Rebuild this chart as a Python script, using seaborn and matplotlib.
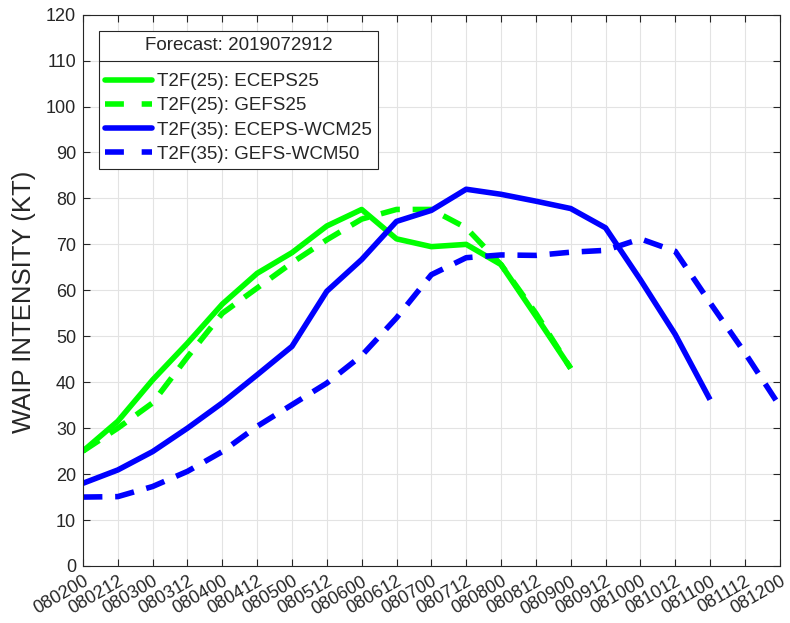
import numpy as np
import pandas as pd
import matplotlib
matplotlib.use("Agg")
import matplotlib.pyplot as plt
import seaborn as sns
from matplotlib.lines import Line2D

# forecast times (ddhh)
times = ["080200", "080212", "080300", "080312", "080400", "080412", "080500",
         "080512", "080600", "080612", "080700", "080712", "080800", "080812",
         "080900", "080912", "081000", "081012", "081100", "081112", "081200"]

# intensities (kt)
eceps25 = [25, 31.5, 40.5, 48.5, 57, 63.7, 68.2, 74, 77.6, 71.2, 69.5, 70, 65.6, 54.4, 43]
gefs25 = [25, 30, 35.5, 45.5, 55, 60.5, 66, 71, 75.5, 77.6, 77.6, 73.6, 65.6, 55, 43]
eceps_wcm25 = [18, 20.9, 24.9, 30, 35.5, 41.6, 47.8, 59.8, 66.7, 75, 77.4, 82, 80.9,
               79.4, 77.8, 73.6, 62.3, 50.4, 36.2]
gefs_wcm50 = [15, 15.1, 17.3, 20.6, 24.9, 30.4, 35.1, 39.8, 45.8, 54, 63.4, 67.1, 67.7,
              67.6, 68.3, 68.7, 71.2, 68.5, 57.3, 46.4, 34.8]

series = [
    ("T2F(25): ECEPS25", eceps25, "#00ff00", False),
    ("T2F(25): GEFS25", gefs25, "#00ff00", True),
    ("T2F(35): ECEPS-WCM25", eceps_wcm25, "#0000ff", False),
    ("T2F(35): GEFS-WCM50", gefs_wcm50, "#0000ff", True),
]

sns.set_theme(style="ticks")
plt.rcParams['font.family'] = ['Liberation Sans', 'DejaVu Sans']

fig = plt.figure(figsize=(7.9, 6.23), dpi=100)
ax = fig.add_axes([0.105, 0.0915, 0.882, 0.885])

lw = 4
dark = "#262626"
handles = []
for name, vals, col, dashed in series:
    df = pd.DataFrame({"x": np.arange(len(vals)), "y": vals})
    sns.lineplot(data=df, x="x", y="y", ax=ax, color=col, linewidth=lw)
    ln = ax.lines[-1]
    if dashed:
        ln.set_dashes((3.5, 2.3))
    ln.set_solid_capstyle("butt")
    h = Line2D([], [], color=col, linewidth=lw)
    if dashed:
        h.set_dashes((3.4, 3.2))
    handles.append(h)

ax.set_xlim(0, len(times) - 1)
ax.set_ylim(0, 120)
ax.set_xticks(range(len(times)))
ax.set_xticklabels(times, rotation=30, ha="right", rotation_mode="anchor",
                   fontsize=13, color=dark)
ax.set_yticks(range(0, 121, 10))
ax.tick_params(axis="y", labelsize=13, labelcolor=dark, pad=5)
ax.tick_params(direction="in", top=True, right=True, length=5, width=0.8,
               color=dark)
ax.tick_params(axis="x", pad=5)
ax.grid(True, color="#e3e3e3", linewidth=0.8)
ax.set_axisbelow(True)
for sp in ax.spines.values():
    sp.set_color(dark)
    sp.set_linewidth(0.8)
ax.set_xlabel("")
ax.set_ylabel("WAIP INTENSITY (KT)", fontsize=18.5, color=dark)
ax.yaxis.set_label_coords(-0.068, 0.48)

leg = ax.legend(handles, [s[0] for s in series], title="Forecast: 2019072912",
                loc="upper left", bbox_to_anchor=(0.023, 0.971), fontsize=13.5,
                title_fontsize=13.5, handlelength=2.5, handletextpad=0.25,
                borderaxespad=0, fancybox=False, framealpha=1,
                edgecolor=dark, labelspacing=0.37, borderpad=0.33)
leg.get_frame().set_linewidth(0.8)
leg.get_title().set_color(dark)
for t in leg.get_texts():
    t.set_color(dark)
# more room between title and entries
leg._legend_box.sep = 14

# separator line under the legend title
fig.canvas.draw()
lb = leg.get_window_extent()
tb = leg.get_title().get_window_extent()
yline = tb.y0 - 7
inv = fig.transFigure.inverted()
(x0, yl), (x1, _) = inv.transform([(lb.x0, yline), (lb.x1, yline)])
fig.add_artist(Line2D([x0, x1], [yl, yl], color=dark, linewidth=0.8,
                      transform=fig.transFigure, zorder=10))

fig.savefig("out.png", dpi=100)
